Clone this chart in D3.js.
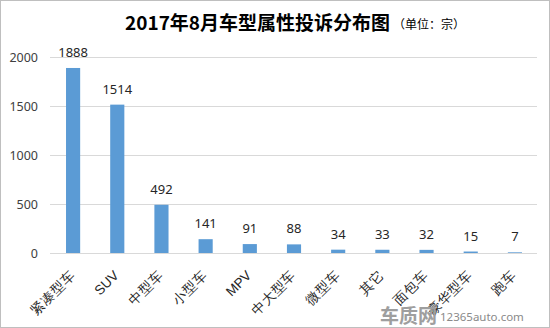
<!DOCTYPE html>
<html>
<head>
<meta charset="utf-8">
<script src="https://cdn.jsdelivr.net/npm/d3@7"></script>
<style>
  body { margin: 0; background: #fff; }
  svg { display: block; font-family: "Noto Sans CJK SC", "Noto Sans", sans-serif; }
</style>
</head>
<body>
<div id="chart"></div>
<script>
const categories = ["紧凑型车", "SUV", "中型车", "小型车", "MPV", "中大型车", "微型车", "其它", "面包车", "豪华型车", "跑车"];
const values = [1888, 1514, 492, 141, 91, 88, 34, 33, 32, 15, 7];
const yTicks = [0, 500, 1000, 1500, 2000];

const width = 550, height = 328;
const margin = { top: 57, right: 13, bottom: 75, left: 51 };

const svg = d3.select("#chart").append("svg")
  .attr("width", width)
  .attr("height", height);

// outer border
svg.append("rect")
  .attr("x", 0.5).attr("y", 0.5)
  .attr("width", width - 1).attr("height", height - 1)
  .attr("fill", "#fff")
  .attr("stroke", "#bfbfbf");

const chartWidth = width - margin.left - margin.right;
const chartHeight = height - margin.top - margin.bottom;

const x = d3.scaleBand()
  .domain(categories)
  .range([margin.left, margin.left + chartWidth])
  .paddingInner(0.68)
  .paddingOuter(0.34);

const y = d3.scaleLinear()
  .domain([0, 2000])
  .range([margin.top + chartHeight, margin.top]);

// gridlines
svg.append("g")
  .selectAll("line")
  .data(yTicks)
  .enter().append("line")
  .attr("x1", margin.left - 1)
  .attr("x2", margin.left + chartWidth)
  .attr("y1", d => Math.round(y(d)) + 0.5)
  .attr("y2", d => Math.round(y(d)) + 0.5)
  .attr("stroke", "#d9d9d9");

// y-axis labels
const yAxis = svg.append("g")
  .attr("transform", `translate(${margin.left - 13},0)`)
  .call(d3.axisLeft(y).tickValues(yTicks).tickFormat(d3.format("d")).tickSize(0).tickPadding(0));
yAxis.select(".domain").remove();
yAxis.selectAll("text")
  .style("font-family", "'Noto Sans', sans-serif")
  .style("font-size", "12.5px")
  .style("fill", "#404040");

// bars
svg.selectAll(".bar")
  .data(values)
  .enter().append("rect")
  .attr("class", "bar")
  .attr("x", (d, i) => x(categories[i]))
  .attr("width", x.bandwidth())
  .attr("y", d => y(d))
  .attr("height", d => y(0) - y(d))
  .attr("fill", "#5b9bd5");

// value labels
svg.selectAll(".val")
  .data(values)
  .enter().append("text")
  .attr("class", "val")
  .attr("x", (d, i) => x(categories[i]) + x.bandwidth() / 2)
  .attr("y", d => y(d) - 11)
  .attr("text-anchor", "middle")
  .style("font-family", "'Noto Sans', sans-serif")
  .style("font-size", "13px")
  .style("fill", "#262626")
  .text(d => d);

// x-axis labels
const xAxis = svg.append("g")
  .attr("transform", `translate(0,${y(0)})`)
  .call(d3.axisBottom(x).tickSize(0).tickPadding(0));
xAxis.select(".domain").remove();
xAxis.selectAll("text")
  .attr("text-anchor", "end")
  .attr("dy", "0.35em")
  .attr("transform", "translate(-1,20) rotate(-45)")
  .style("font-size", "13.5px")
  .style("fill", "#262626");

// title
const title = svg.append("text")
  .attr("x", 125)
  .attr("y", 30)
  .style("fill", "#000");
title.append("tspan")
  .style("font-size", "19px")
  .style("font-weight", "bold")
  .text("2017年8月车型属性投诉分布图");
title.append("tspan")
  .attr("dx", 3)
  .attr("dy", -1)
  .style("font-size", "12px")
  .text("（单位：宗）");

// watermark
svg.append("text")
  .attr("x", 380)
  .attr("y", 323)
  .style("font-size", "19px")
  .style("font-weight", "bold")
  .style("fill", "#9e9e9e")
  .text("车质网");
svg.append("text")
  .attr("x", 440)
  .attr("y", 321)
  .style("font-family", "'Noto Sans', sans-serif")
  .style("font-size", "11.5px")
  .style("fill", "#8a8a8a")
  .text("12365auto.com");
</script>
</body>
</html>
